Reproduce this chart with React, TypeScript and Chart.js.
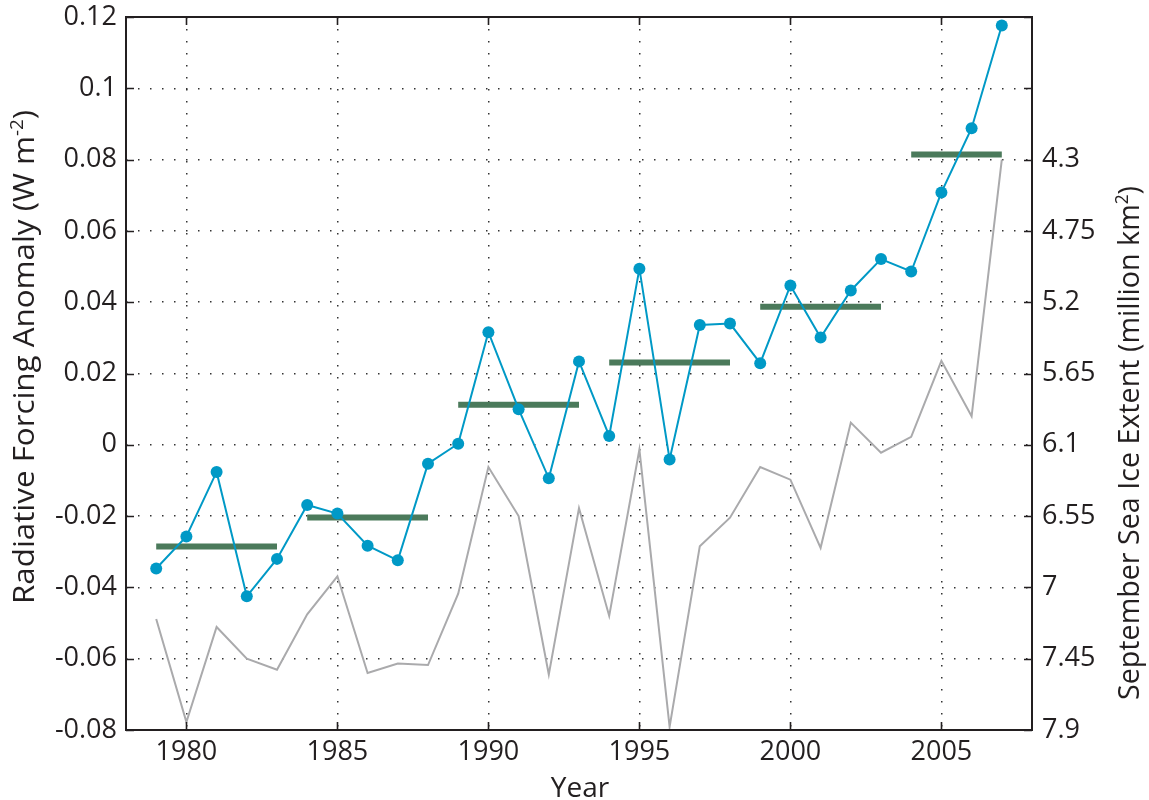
import React, { useEffect, useRef } from 'react';
import { Chart, registerables } from 'chart.js';

Chart.register(...registerables);

const years = [1979, 1980, 1981, 1982, 1983, 1984, 1985, 1986, 1987, 1988, 1989, 1990, 1991, 1992, 1993, 1994, 1995, 1996, 1997, 1998, 1999, 2000, 2001, 2002, 2003, 2004, 2005, 2006, 2007];
const forcing = [-0.0347, -0.0257, -0.0076, -0.0425, -0.032, -0.0169, -0.0193, -0.0283, -0.0324, -0.0053, 0.0003, 0.0316, 0.01, -0.0094, 0.0234, 0.0025, 0.0494, -0.0041, 0.0336, 0.034, 0.0229, 0.0447, 0.0301, 0.0433, 0.0521, 0.0486, 0.0708, 0.0888, 0.1176];
const iceExtent = [7.2, 7.85, 7.25, 7.45, 7.52, 7.17, 6.93, 7.54, 7.48, 7.49, 7.04, 6.24, 6.55, 7.55, 6.5, 7.18, 6.13, 7.88, 6.74, 6.56, 6.24, 6.32, 6.75, 5.96, 6.15, 6.05, 5.57, 5.92, 4.3];
const periodStart = [1979, 1984, 1989, 1994, 1999, 2004];
const periodEnd = [1983, 1988, 1993, 1998, 2003, 2007];
const periodMean = [-0.0285, -0.0204, 0.0112, 0.0231, 0.0387, 0.0814];
const xTicks = [1980, 1985, 1990, 1995, 2000, 2005];
const leftTicks = [-0.08, -0.06, -0.04, -0.02, 0, 0.02, 0.04, 0.06, 0.08, 0.1, 0.12];
const leftLabels = ['-0.08', '-0.06', '-0.04', '-0.02', '0', '0.02', '0.04', '0.06', '0.08', '0.1', '0.12'];
const rightTicks = [3.4, 3.85, 4.3, 4.75, 5.2, 5.65, 6.1, 6.55, 7, 7.45, 7.9];
const rightLabels = ['', '', '4.3', '4.75', '5.2', '5.65', '6.1', '6.55', '7', '7.45', '7.9'];

const FONT = "'Open Sans', 'DejaVu Sans', sans-serif";
const TEXT = '#231f20';

type Part = { text: string; sup?: boolean };

function drawTitle(ctx: CanvasRenderingContext2D, parts: Part[], cx: number, cy: number, size: number, rotate: boolean, targetLen: number) {
  ctx.save();
  ctx.fillStyle = TEXT;
  ctx.textBaseline = 'alphabetic';
  ctx.textAlign = 'left';
  const widths = parts.map(p => {
    ctx.font = `${p.sup ? size * 0.6 : size}px ${FONT}`;
    return ctx.measureText(p.text).width;
  });
  const total = widths.reduce((a, b) => a + b, 0);
  const squeeze = targetLen > 0 ? targetLen / total : 1;
  ctx.translate(cx, cy);
  if (rotate) ctx.rotate(-Math.PI / 2);
  ctx.scale(squeeze, 1);
  let x = -total / 2;
  const base = size * 0.36;
  parts.forEach((p, i) => {
    ctx.font = `${p.sup ? size * 0.6 : size}px ${FONT}`;
    ctx.fillText(p.text, x, p.sup ? base - size * 0.4 : base);
    x += widths[i];
  });
  ctx.restore();
}

const framePlugin = {
  id: 'frame',
  afterDraw(chart: any) {
    const { ctx, chartArea, scales } = chart;
    const { left, right, top, bottom } = chartArea;
    ctx.save();
    ctx.strokeStyle = '#231f20';
    ctx.lineWidth = 2;
    ctx.strokeRect(left, top, right - left, bottom - top);
    ctx.lineWidth = 1.6;
    ctx.beginPath();
    scales.x.ticks.forEach((t: any) => {
      const px = Math.round(scales.x.getPixelForValue(t.value)) + 0.5;
      ctx.moveTo(px, bottom); ctx.lineTo(px, bottom - 8);
      ctx.moveTo(px, top); ctx.lineTo(px, top + 8);
    });
    scales.y.ticks.forEach((t: any) => {
      const py = Math.round(scales.y.getPixelForValue(t.value)) + 0.5;
      ctx.moveTo(left, py); ctx.lineTo(left + 8, py);
    });
    scales.y2.ticks.forEach((t: any) => {
      const py = Math.round(scales.y2.getPixelForValue(t.value)) + 0.5;
      ctx.moveTo(right, py); ctx.lineTo(right - 8, py);
    });
    ctx.stroke();
    ctx.restore();

    drawTitle(ctx, [{ text: 'Radiative Forcing Anomaly (W m' }, { text: '-2', sup: true }, { text: ')' }], 24, 357, 29, true, 494);
    drawTitle(ctx, [{ text: 'September Sea Ice Extent (million km' }, { text: '2', sup: true }, { text: ')' }], 1129, 443, 29, true, 514);
    drawTitle(ctx, [{ text: 'Year' }], 580, 787, 28, false, 0);
  },
};

function labelFor(ticks: number[], labels: string[], v: number) {
  const i = ticks.findIndex(t => Math.abs(t - v) < 1e-9);
  return i >= 0 ? labels[i] : '';
}

function noPad(s: any) {
  s.paddingTop = 0;
  s.paddingBottom = 0;
  s.paddingLeft = 0;
  s.paddingRight = 0;
}

export default function App() {
  const ref = useRef<HTMLCanvasElement | null>(null);
  useEffect(() => {
    document.body.style.margin = '0';
    const canvas = ref.current;
    if (!canvas) return;

    const bars: any[] = [];
    periodStart.forEach((s, i) => {
      bars.push({ x: s, y: periodMean[i] });
      bars.push({ x: periodEnd[i], y: periodMean[i] });
      bars.push({ x: periodEnd[i] + 0.5, y: null });
    });

    const tickFont = { family: FONT, size: 27 };

    const chart = new Chart(canvas, {
      type: 'line',
      data: {
        datasets: [
          {
            label: 'Radiative forcing anomaly',
            data: years.map((x, i) => ({ x, y: forcing[i] })),
            borderColor: '#0099c6',
            backgroundColor: '#0099c6',
            borderWidth: 2,
            pointRadius: 6,
            pointBorderWidth: 0,
            tension: 0,
            xAxisID: 'x',
            yAxisID: 'y',
          },
          {
            label: '5-year mean',
            data: bars,
            borderColor: '#4b7a5b',
            borderWidth: 6,
            borderCapStyle: 'butt',
            pointRadius: 0,
            spanGaps: false,
            xAxisID: 'x',
            yAxisID: 'y',
          },
          {
            label: 'September sea ice extent',
            data: years.map((x, i) => ({ x, y: iceExtent[i] })),
            borderColor: '#aaaaac',
            borderWidth: 2,
            pointRadius: 0,
            tension: 0,
            xAxisID: 'x',
            yAxisID: 'y2',
          },
        ] as any,
      },
      options: {
        responsive: false,
        animation: false,
        devicePixelRatio: 1,
        layout: { padding: { top: 17, left: 0, right: 0, bottom: 0 } },
        plugins: { legend: { display: false }, tooltip: { enabled: false } },
        scales: {
          x: {
            type: 'linear',
            min: 1978,
            max: 2008,
            afterBuildTicks: (s: any) => { s.ticks = xTicks.map(v => ({ value: v })); },
            afterFit: (s: any) => { s.height = 70; noPad(s); },
            ticks: { font: tickFont, color: TEXT, padding: 6, maxRotation: 0, callback: (v: any) => String(v) },
            grid: { color: '#333333', lineWidth: 1.5, drawTicks: false },
            border: { display: false, dash: [1.5, 10.5] },
          },
          y: {
            type: 'linear',
            position: 'left',
            min: -0.08,
            max: 0.12,
            afterBuildTicks: (s: any) => { s.ticks = leftTicks.map(v => ({ value: v })); },
            afterFit: (s: any) => { s.width = 126; noPad(s); },
            ticks: { font: tickFont, color: TEXT, padding: 9, callback: (v: any) => labelFor(leftTicks, leftLabels, v) },
            grid: { color: '#333333', lineWidth: 1.5, drawTicks: false },
            border: { display: false, dash: [1.5, 10.5] },
          },
          y2: {
            type: 'linear',
            position: 'right',
            min: 3.4,
            max: 7.9,
            reverse: true,
            afterBuildTicks: (s: any) => { s.ticks = rightTicks.map(v => ({ value: v })); },
            afterFit: (s: any) => { s.width = 117; noPad(s); },
            ticks: { font: tickFont, color: TEXT, padding: 10, callback: (v: any) => labelFor(rightTicks, rightLabels, v) },
            grid: { display: false, drawTicks: false },
            border: { display: false },
          },
        },
      } as any,
      plugins: [framePlugin],
    });
    return () => chart.destroy();
  }, []);

  return (
    <div style={{ width: 1149, height: 800 }}>
      <canvas ref={ref} width={1149} height={800} style={{ display: 'block' }} />
    </div>
  );
}
